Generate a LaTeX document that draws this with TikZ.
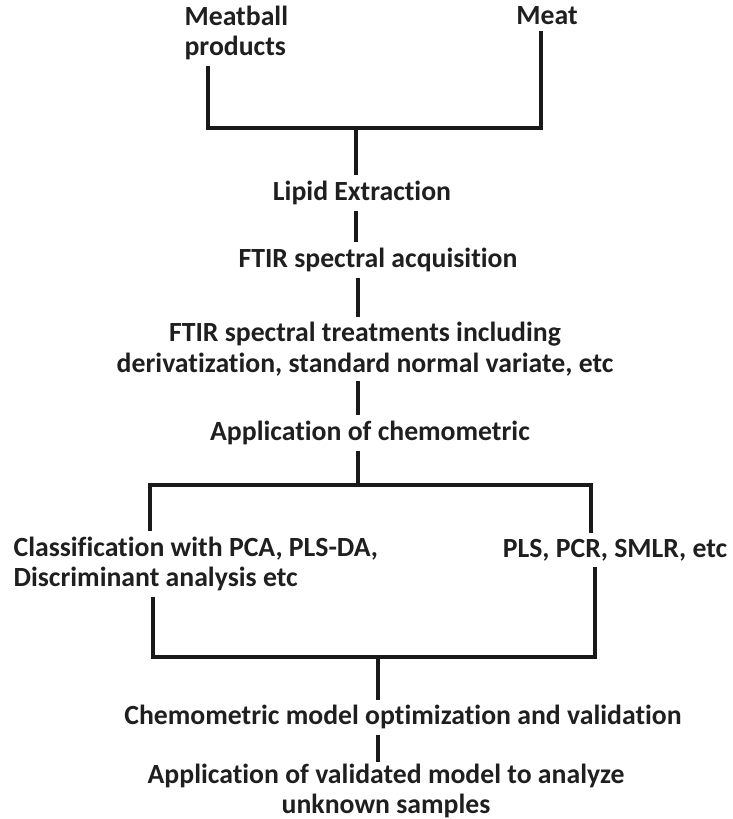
\documentclass[tikz,border=0pt]{standalone}
\usepackage{fontspec}
\setmainfont[Ligatures=NoCommon]{Carlito}
\usepackage{tikz}

\begin{document}
\begin{tikzpicture}[x=0.75pt,y=0.75pt,yscale=-1,xscale=1,
  txt/.style={inner sep=4pt,font=\fontsize{20.8}{22.8}\selectfont\bfseries,text=black!88},
  ln/.style={line width=2.4pt,color=black!90}]
%set diagram size 733 x 819
\useasboundingbox (0,0) rectangle (733,819);

% Text Node
\draw (179,33) node (mb) [txt,anchor=west,align=left] {Meatball\\products};
% Text Node
\draw (547,16) node (mt) [txt] {Meat};
% Text Node
\draw (362,193) node (lip) [txt] {Lipid Extraction};
% Text Node
\draw (378,260) node (acq) [txt] {FTIR spectral acquisition};
% Text Node
\draw (365,349) node (trt) [txt,align=center] {FTIR spectral treatments including\\derivatization, standard normal variate, etc};
% Text Node
\draw (370,433) node (chm) [txt] {Application of chemometric};
% Text Node
\draw (8,564) node (cls) [txt,anchor=west,align=left] {Classification with PCA, PLS-DA,\\Discriminant analysis etc};
% Text Node
\draw (615,550) node (pls) [txt] {PLS, PCR, SMLR, etc};
% Text Node
\draw (403,717) node (opt) [txt] {Chemometric model optimization and validation};
% Text Node
\draw (386,791) node (val) [txt,inner sep=1pt,align=center] {Application of validated model to analyze\\unknown samples};

% junctions
\coordinate (jtl) at (208,128);
\coordinate (jtr) at (541,128);
\coordinate (jtc) at (356,128);
\coordinate (jml) at (150,485);
\coordinate (jmr) at (591,485);
\coordinate (jmc) at (358,485);
\coordinate (jbl) at (153,657);
\coordinate (jbr) at (595,657);
\coordinate (jbc) at (378,657);

%Straight Lines
\draw [ln] (mb.south -| jtl) -- (jtl) -- (jtr) -- (mt.south -| jtr);
\draw [ln] (jtc) -- (lip.north -| jtc);
\draw [ln] (lip.south -| jtc) -- (acq.north -| jtc);
\draw [ln] (acq.south -| jmc) -- (trt.north -| jmc);
\draw [ln] (trt.south -| jmc) -- (chm.north -| jmc);
\draw [ln] (chm.south -| jmc) -- (jmc);
%Straight Lines
\draw [ln] (cls.north -| jml) -- (jml) -- (jmr) -- (pls.north -| jmr);
\draw [ln] (cls.south -| jbl) -- (jbl) -- (jbr) -- (pls.south -| jbr);
\draw [ln] (jbc) -- (opt.north -| jbc);
\draw [ln] (opt.south -| jbc) -- (val.north -| jbc);

\end{tikzpicture}
\end{document}
